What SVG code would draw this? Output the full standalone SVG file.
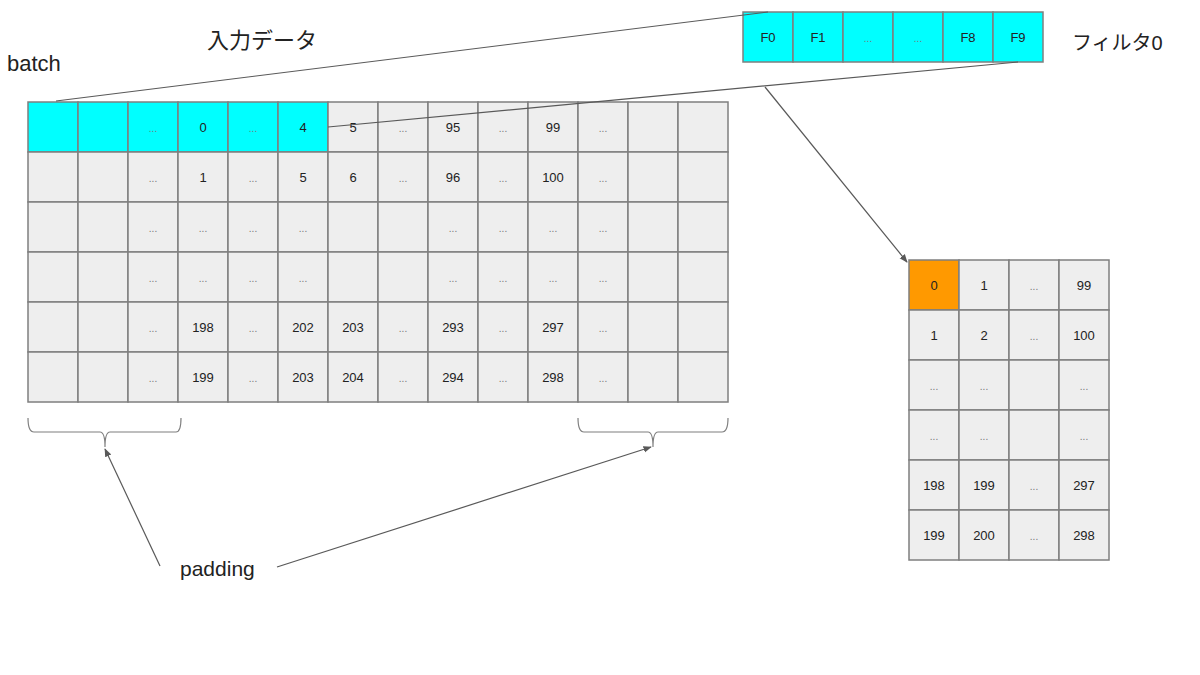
<svg xmlns="http://www.w3.org/2000/svg" width="1200" height="675" viewBox="0 0 1200 675">
<style>
.c{fill:#eeeeee;stroke:#7f7f7f;stroke-width:1.5}
.cy{fill:#00ffff;stroke:#7f7f7f;stroke-width:1.5}
.or{fill:#ff9900;stroke:#7f7f7f;stroke-width:1.5}
.t{font-family:"Liberation Sans",Arial,sans-serif;font-size:13px;fill:#222;text-anchor:middle}
.d{font-family:"Liberation Sans",Arial,sans-serif;font-size:10px;fill:#777;text-anchor:middle}
.lbl{font-family:"Liberation Sans","Noto Sans CJK JP",sans-serif;font-size:21px;fill:#222}
.ln{fill:none;stroke:#595959;stroke-width:1.2}
.br{fill:none;stroke:#7f7f7f;stroke-width:1.2}
</style>
<defs>
<marker id="ah" viewBox="0 0 10 10" refX="9" refY="5" markerWidth="7" markerHeight="7" orient="auto">
<path d="M0,1 L10,5 L0,9 z" fill="#595959"/>
</marker>
</defs>
<rect width="1200" height="675" fill="#ffffff"/>

<g id="input-grid">
<rect class="cy" x="28" y="102" width="50" height="50"/><rect class="cy" x="78" y="102" width="50" height="50"/><rect class="cy" x="128" y="102" width="50" height="50"/><rect class="cy" x="178" y="102" width="50" height="50"/><rect class="cy" x="228" y="102" width="50" height="50"/><rect class="cy" x="278" y="102" width="50" height="50"/>
<rect class="c" x="328" y="102" width="50" height="50"/><rect class="c" x="378" y="102" width="50" height="50"/><rect class="c" x="428" y="102" width="50" height="50"/><rect class="c" x="478" y="102" width="50" height="50"/><rect class="c" x="528" y="102" width="50" height="50"/><rect class="c" x="578" y="102" width="50" height="50"/><rect class="c" x="628" y="102" width="50" height="50"/><rect class="c" x="678" y="102" width="50" height="50"/>
<g>
<rect class="c" x="28" y="152" width="50" height="50"/><rect class="c" x="78" y="152" width="50" height="50"/><rect class="c" x="128" y="152" width="50" height="50"/><rect class="c" x="178" y="152" width="50" height="50"/><rect class="c" x="228" y="152" width="50" height="50"/><rect class="c" x="278" y="152" width="50" height="50"/><rect class="c" x="328" y="152" width="50" height="50"/><rect class="c" x="378" y="152" width="50" height="50"/><rect class="c" x="428" y="152" width="50" height="50"/><rect class="c" x="478" y="152" width="50" height="50"/><rect class="c" x="528" y="152" width="50" height="50"/><rect class="c" x="578" y="152" width="50" height="50"/><rect class="c" x="628" y="152" width="50" height="50"/><rect class="c" x="678" y="152" width="50" height="50"/>
<rect class="c" x="28" y="202" width="50" height="50"/><rect class="c" x="78" y="202" width="50" height="50"/><rect class="c" x="128" y="202" width="50" height="50"/><rect class="c" x="178" y="202" width="50" height="50"/><rect class="c" x="228" y="202" width="50" height="50"/><rect class="c" x="278" y="202" width="50" height="50"/><rect class="c" x="328" y="202" width="50" height="50"/><rect class="c" x="378" y="202" width="50" height="50"/><rect class="c" x="428" y="202" width="50" height="50"/><rect class="c" x="478" y="202" width="50" height="50"/><rect class="c" x="528" y="202" width="50" height="50"/><rect class="c" x="578" y="202" width="50" height="50"/><rect class="c" x="628" y="202" width="50" height="50"/><rect class="c" x="678" y="202" width="50" height="50"/>
<rect class="c" x="28" y="252" width="50" height="50"/><rect class="c" x="78" y="252" width="50" height="50"/><rect class="c" x="128" y="252" width="50" height="50"/><rect class="c" x="178" y="252" width="50" height="50"/><rect class="c" x="228" y="252" width="50" height="50"/><rect class="c" x="278" y="252" width="50" height="50"/><rect class="c" x="328" y="252" width="50" height="50"/><rect class="c" x="378" y="252" width="50" height="50"/><rect class="c" x="428" y="252" width="50" height="50"/><rect class="c" x="478" y="252" width="50" height="50"/><rect class="c" x="528" y="252" width="50" height="50"/><rect class="c" x="578" y="252" width="50" height="50"/><rect class="c" x="628" y="252" width="50" height="50"/><rect class="c" x="678" y="252" width="50" height="50"/>
<rect class="c" x="28" y="302" width="50" height="50"/><rect class="c" x="78" y="302" width="50" height="50"/><rect class="c" x="128" y="302" width="50" height="50"/><rect class="c" x="178" y="302" width="50" height="50"/><rect class="c" x="228" y="302" width="50" height="50"/><rect class="c" x="278" y="302" width="50" height="50"/><rect class="c" x="328" y="302" width="50" height="50"/><rect class="c" x="378" y="302" width="50" height="50"/><rect class="c" x="428" y="302" width="50" height="50"/><rect class="c" x="478" y="302" width="50" height="50"/><rect class="c" x="528" y="302" width="50" height="50"/><rect class="c" x="578" y="302" width="50" height="50"/><rect class="c" x="628" y="302" width="50" height="50"/><rect class="c" x="678" y="302" width="50" height="50"/>
<rect class="c" x="28" y="352" width="50" height="50"/><rect class="c" x="78" y="352" width="50" height="50"/><rect class="c" x="128" y="352" width="50" height="50"/><rect class="c" x="178" y="352" width="50" height="50"/><rect class="c" x="228" y="352" width="50" height="50"/><rect class="c" x="278" y="352" width="50" height="50"/><rect class="c" x="328" y="352" width="50" height="50"/><rect class="c" x="378" y="352" width="50" height="50"/><rect class="c" x="428" y="352" width="50" height="50"/><rect class="c" x="478" y="352" width="50" height="50"/><rect class="c" x="528" y="352" width="50" height="50"/><rect class="c" x="578" y="352" width="50" height="50"/><rect class="c" x="628" y="352" width="50" height="50"/><rect class="c" x="678" y="352" width="50" height="50"/>
</g>
<text class="d" x="153" y="132">...</text><text class="t" x="203" y="132">0</text><text class="d" x="253" y="132">...</text><text class="t" x="303" y="132">4</text><text class="t" x="353" y="132">5</text><text class="d" x="403" y="132">...</text><text class="t" x="453" y="132">95</text><text class="d" x="503" y="132">...</text><text class="t" x="553" y="132">99</text><text class="d" x="603" y="132">...</text>
<text class="d" x="153" y="182">...</text><text class="t" x="203" y="182">1</text><text class="d" x="253" y="182">...</text><text class="t" x="303" y="182">5</text><text class="t" x="353" y="182">6</text><text class="d" x="403" y="182">...</text><text class="t" x="453" y="182">96</text><text class="d" x="503" y="182">...</text><text class="t" x="553" y="182">100</text><text class="d" x="603" y="182">...</text>
<text class="d" x="153" y="232">...</text><text class="d" x="203" y="232">...</text><text class="d" x="253" y="232">...</text><text class="d" x="303" y="232">...</text><text class="d" x="453" y="232">...</text><text class="d" x="503" y="232">...</text><text class="d" x="553" y="232">...</text><text class="d" x="603" y="232">...</text>
<text class="d" x="153" y="282">...</text><text class="d" x="203" y="282">...</text><text class="d" x="253" y="282">...</text><text class="d" x="303" y="282">...</text><text class="d" x="453" y="282">...</text><text class="d" x="503" y="282">...</text><text class="d" x="553" y="282">...</text><text class="d" x="603" y="282">...</text>
<text class="d" x="153" y="332">...</text><text class="t" x="203" y="332">198</text><text class="d" x="253" y="332">...</text><text class="t" x="303" y="332">202</text><text class="t" x="353" y="332">203</text><text class="d" x="403" y="332">...</text><text class="t" x="453" y="332">293</text><text class="d" x="503" y="332">...</text><text class="t" x="553" y="332">297</text><text class="d" x="603" y="332">...</text>
<text class="d" x="153" y="382">...</text><text class="t" x="203" y="382">199</text><text class="d" x="253" y="382">...</text><text class="t" x="303" y="382">203</text><text class="t" x="353" y="382">204</text><text class="d" x="403" y="382">...</text><text class="t" x="453" y="382">294</text><text class="d" x="503" y="382">...</text><text class="t" x="553" y="382">298</text><text class="d" x="603" y="382">...</text>
</g>

<g id="filter">
<rect class="cy" x="743" y="12" width="50" height="50"/><rect class="cy" x="793" y="12" width="50" height="50"/><rect class="cy" x="843" y="12" width="50" height="50"/><rect class="cy" x="893" y="12" width="50" height="50"/><rect class="cy" x="943" y="12" width="50" height="50"/><rect class="cy" x="993" y="12" width="50" height="50"/>
<text class="t" x="768" y="42">F0</text><text class="t" x="818" y="42">F1</text><text class="d" x="868" y="42">...</text><text class="d" x="918" y="42">...</text><text class="t" x="968" y="42">F8</text><text class="t" x="1018" y="42">F9</text>
</g>

<g id="output-grid">
<rect class="or" x="909" y="260" width="50" height="50"/><rect class="c" x="959" y="260" width="50" height="50"/><rect class="c" x="1009" y="260" width="50" height="50"/><rect class="c" x="1059" y="260" width="50" height="50"/>
<rect class="c" x="909" y="310" width="50" height="50"/><rect class="c" x="959" y="310" width="50" height="50"/><rect class="c" x="1009" y="310" width="50" height="50"/><rect class="c" x="1059" y="310" width="50" height="50"/>
<rect class="c" x="909" y="360" width="50" height="50"/><rect class="c" x="959" y="360" width="50" height="50"/><rect class="c" x="1009" y="360" width="50" height="50"/><rect class="c" x="1059" y="360" width="50" height="50"/>
<rect class="c" x="909" y="410" width="50" height="50"/><rect class="c" x="959" y="410" width="50" height="50"/><rect class="c" x="1009" y="410" width="50" height="50"/><rect class="c" x="1059" y="410" width="50" height="50"/>
<rect class="c" x="909" y="460" width="50" height="50"/><rect class="c" x="959" y="460" width="50" height="50"/><rect class="c" x="1009" y="460" width="50" height="50"/><rect class="c" x="1059" y="460" width="50" height="50"/>
<rect class="c" x="909" y="510" width="50" height="50"/><rect class="c" x="959" y="510" width="50" height="50"/><rect class="c" x="1009" y="510" width="50" height="50"/><rect class="c" x="1059" y="510" width="50" height="50"/>
<text class="t" x="934" y="290">0</text><text class="t" x="984" y="290">1</text><text class="d" x="1034" y="290">...</text><text class="t" x="1084" y="290">99</text>
<text class="t" x="934" y="340">1</text><text class="t" x="984" y="340">2</text><text class="d" x="1034" y="340">...</text><text class="t" x="1084" y="340">100</text>
<text class="d" x="934" y="390">...</text><text class="d" x="984" y="390">...</text><text class="d" x="1084" y="390">...</text>
<text class="d" x="934" y="440">...</text><text class="d" x="984" y="440">...</text><text class="d" x="1084" y="440">...</text>
<text class="t" x="934" y="490">198</text><text class="t" x="984" y="490">199</text><text class="d" x="1034" y="490">...</text><text class="t" x="1084" y="490">297</text>
<text class="t" x="934" y="540">199</text><text class="t" x="984" y="540">200</text><text class="d" x="1034" y="540">...</text><text class="t" x="1084" y="540">298</text>
</g>

<g id="brackets">
<path class="br" d="M28,418 Q28,432 34,432 L100,432 Q105,432 105,447 Q105,432 110,432 L176,432 Q181,432 181,418"/>
<path class="br" d="M578,418 Q578,432 584,432 L648,432 Q653,432 653,447 Q653,432 658,432 L722,432 Q728,432 728,418"/>
</g>

<g id="labels">
<text class="lbl" x="7" y="71" style="font-size:22px">batch</text>
<text class="lbl" x="207" y="48" style="font-size:22px">入力データ</text>
<text class="lbl" x="1072" y="50" style="font-size:20px">フィルタ0</text>
<text class="lbl" x="180" y="576" style="font-size:21px">padding</text>
</g>

<g id="connectors">
<line class="ln" x1="56" y1="101" x2="768" y2="12"/>
<line class="ln" x1="328" y1="127" x2="1018" y2="62"/>
<line class="ln" x1="765" y1="87" x2="907" y2="262" marker-end="url(#ah)"/>
<line class="ln" x1="160" y1="566" x2="105" y2="449" marker-end="url(#ah)"/>
<line class="ln" x1="277" y1="567" x2="651" y2="447" marker-end="url(#ah)"/>
</g>
</svg>
